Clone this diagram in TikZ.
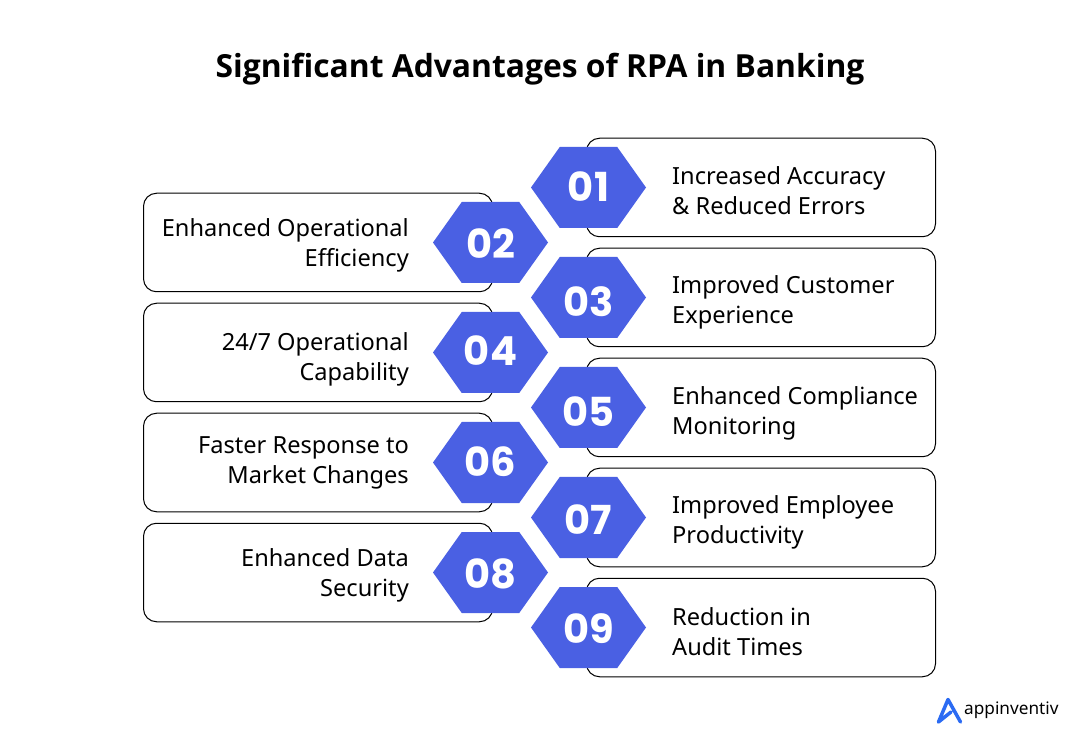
\documentclass[tikz,border=0pt]{standalone}
\usepackage{fontspec}
\usepackage{tikz}
\setmainfont{Noto Sans}
\newfontfamily\numfont{Poppins}
\newfontfamily\titlefont{Open Sans}
\definecolor{hexblue}{HTML}{4A60E3}
\definecolor{logoblue}{HTML}{2B6BF3}

\begin{document}
\begin{tikzpicture}[x=1pt,y=-1pt,
      box/.style={draw=black,line width=1pt,rounded corners=13pt,minimum width=349pt,minimum height=98.5pt,inner sep=0pt},
      hex/.style={text=white,minimum width=115pt,minimum height=81pt,inner sep=0pt,outer sep=0pt,
        text height=31pt,text depth=0pt,
        font=\numfont\fontsize{40}{40}\selectfont\bfseries,
        path picture={\fill[hexblue] (path picture bounding box.west)
          -- ([xshift=28.75pt]path picture bounding box.north west)
          -- ([xshift=-28.75pt]path picture bounding box.north east)
          -- (path picture bounding box.east)
          -- ([xshift=-28.75pt]path picture bounding box.south east)
          -- ([xshift=28.75pt]path picture bounding box.south west) -- cycle;}},
      rtext/.style={anchor=west,align=left,inner sep=0pt,font=\fontsize{23.6}{30}\selectfont},
      ltext/.style={anchor=east,align=right,inner sep=0pt,font=\fontsize{23.6}{30}\selectfont}]
      \useasboundingbox (0,0) rectangle (1080,751);

      \node[font=\titlefont\fontsize{31.8}{32}\selectfont\bfseries] (title) at (540,69) {Significant Advantages of RPA in Banking};

      \node[box] (b1) at (761,187.5) {};
      \node[box] (b2) at (318,242.5) {};
      \node[box] (b3) at (761,297.5) {};
      \node[box] (b4) at (318,352.5) {};
      \node[box] (b5) at (761,407.5) {};
      \node[box] (b6) at (318,462.5) {};
      \node[box] (b7) at (761,517.5) {};
      \node[box] (b8) at (318,572.5) {};
      \node[box] (b9) at (761,627.5) {};

      \node[hex] (h1) at (588.5,187.5) {\raisebox{1.5pt}[0pt][0pt]{01}};
      \node[hex] (h2) at (490.5,242.5) {\raisebox{-0.5pt}[0pt][0pt]{02}};
      \node[hex] (h3) at (588.5,297.5) {\raisebox{-4pt}[0pt][0pt]{03}};
      \node[hex] (h4) at (490.5,352.5) {\raisebox{2pt}[0pt][0pt]{04}};
      \node[hex] (h5) at (588.5,407.5) {\raisebox{-3.5pt}[0pt][0pt]{05}};
      \node[hex] (h6) at (490.5,462.5) {\raisebox{1.5pt}[0pt][0pt]{06}};
      \node[hex] (h7) at (588.5,517.5) {\raisebox{-1.5pt}[0pt][0pt]{07}};
      \node[hex] (h8) at (490.5,572.5) {\raisebox{0pt}[0pt][0pt]{08}};
      \node[hex] (h9) at (588.5,627.5) {\raisebox{-0.5pt}[0pt][0pt]{09}};

      \node[rtext] (t1) at (672,191) {Increased Accuracy\\\& Reduced Errors};
      \node[ltext] (t2) at (409,245) {Enhanced Operational\\Efficiency};
      \node[rtext] (t3) at (672,302) {Improved Customer\\Experience};
      \node[ltext] (t4) at (409,359) {24/7 Operational\\Capability};
      \node[rtext] (t5) at (672,413) {Enhanced Compliance\\Monitoring};
      \node[ltext] (t6) at (409,463) {Faster Response to\\Market Changes};
      \node[rtext] (t7) at (672,522) {Improved Employee\\Productivity};
      \node[ltext] (t8) at (409,575) {Enhanced Data\\Security};
      \node[rtext] (t9) at (672,632) {Reduction in\\Audit Times};

      \draw[logoblue,line width=3.5pt,line join=round,line cap=round]
        (938.5,722) -- (948,699.5) -- (960.5,722) (938.5,722) -- (951,712);
      \node[anchor=west,inner sep=0pt,font=\fontsize{17.2}{18}\selectfont] (logo) at (964,710) {appinventiv};
\end{tikzpicture}
\end{document}
